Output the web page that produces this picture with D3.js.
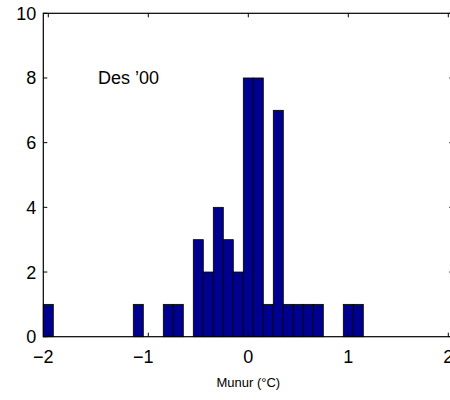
<!DOCTYPE html>
<html>
<head>
<meta charset="utf-8">
<script src="https://cdn.jsdelivr.net/npm/d3@7"></script>
<style>
  body { margin: 0; background: #fff; }
  text { font-family: "Liberation Sans", Arial, sans-serif; }
</style>
</head>
<body>
<div id="vis"></div>
<script>
// histogram bin centres and counts
var binCenters = [-2.0, -1.1, -0.8, -0.7, -0.5, -0.4, -0.3, -0.2, -0.1, 0.0, 0.1, 0.2, 0.3, 0.4, 0.5, 0.6, 0.7, 1.0, 1.1];
var binCounts  = [1, 1, 1, 1, 3, 2, 4, 3, 2, 8, 8, 1, 7, 1, 1, 1, 1, 1, 1];
var binWidth = 0.1;
var xTicks = [-2, -1, 0, 1, 2];
var yTicks = [0, 2, 4, 6, 8, 10];
var xLabel = "Munur (°C)";
var note = "Des ’00";

// plot box (note: "top" is a reserved window property, so use box.*)
var W = 450, H = 400;
var box = {left: 43.3, right: 453.3, top: 13.3, bottom: 336.7};

var x = d3.scaleLinear().domain([-2.05, 2.05]).range([box.left, box.right]);
var y = d3.scaleLinear().domain([0, 10]).range([box.bottom, box.top]);

var svg = d3.select("#vis").append("svg")
    .attr("width", W)
    .attr("height", H);

var data = binCenters.map(function(c, i) { return {c: c, n: binCounts[i]}; });

// bars
svg.append("g").selectAll("rect")
    .data(data)
  .enter().append("rect")
    .attr("x", function(d) { return x(d.c - binWidth / 2); })
    .attr("width", function(d) { return x(d.c + binWidth / 2) - x(d.c - binWidth / 2); })
    .attr("y", function(d) { return y(d.n); })
    .attr("height", function(d) { return y(0) - y(d.n); })
    .attr("fill", "#00008f")
    .attr("stroke", "#000")
    .attr("stroke-width", 0.8);

// box
svg.append("rect")
    .attr("x", box.left).attr("y", box.top)
    .attr("width", box.right - box.left).attr("height", box.bottom - box.top)
    .attr("fill", "none")
    .attr("stroke", "#000")
    .attr("stroke-width", 1.2);

// ticks point inwards, on all four sides
var ticks = svg.append("g").attr("stroke", "#000").attr("stroke-width", 1);
xTicks.forEach(function(t) {
  ticks.append("line").attr("x1", x(t)).attr("x2", x(t)).attr("y1", box.bottom).attr("y2", box.bottom - 4);
  ticks.append("line").attr("x1", x(t)).attr("x2", x(t)).attr("y1", box.top).attr("y2", box.top + 4);
});
yTicks.forEach(function(t) {
  ticks.append("line").attr("x1", box.left).attr("x2", box.left + 4).attr("y1", y(t)).attr("y2", y(t));
  ticks.append("line").attr("x1", box.right).attr("x2", box.right - 4).attr("y1", y(t)).attr("y2", y(t));
});

// tick labels (minus sign hangs left of the centred digit, like matlab)
svg.append("g").selectAll("text")
    .data(xTicks)
  .enter().append("text")
    .attr("x", function(d) { return x(d); })
    .attr("dx", function(d) { return d < 0 ? -5 : 0; })
    .attr("y", box.bottom + 26)
    .attr("text-anchor", "middle")
    .attr("font-size", 18)
    .text(function(d) { return d < 0 ? "\u2212" + Math.abs(d) : d; });

svg.append("g").selectAll("text")
    .data(yTicks)
  .enter().append("text")
    .attr("x", box.left - 7)
    .attr("y", function(d) { return y(d) + 6.5; })
    .attr("text-anchor", "end")
    .attr("font-size", 18)
    .text(function(d) { return d; });

// annotation and axis label
svg.append("text")
    .attr("x", 98)
    .attr("y", y(8) + 6.5)
    .attr("font-size", 18)
    .text(note);

svg.append("text")
    .attr("x", x(0))
    .attr("y", 387)
    .attr("text-anchor", "middle")
    .attr("font-size", 13)
    .text(xLabel);
</script>
</body>
</html>
